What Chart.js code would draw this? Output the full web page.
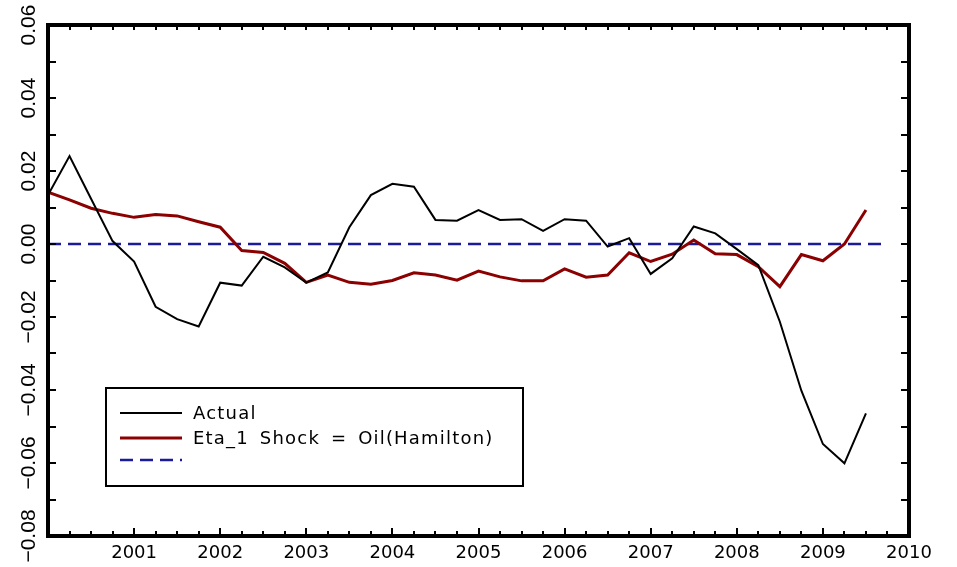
<!DOCTYPE html>
<html lang="en">
<head>
  <meta charset="UTF-8">
  <title>Actual vs Eta_1 Shock = Oil(Hamilton)</title>
  <script src="https://cdn.jsdelivr.net/npm/chart.js"></script>
  <style>
    html, body { margin: 0; padding: 0; background: #fff; }
    #wrap { width: 957px; height: 567px; }
  </style>
</head>
<body>
  <div id="wrap"><canvas id="chart" width="957" height="567"></canvas></div>

  <script>
    // quarterly dates, 2000Q1 .. 2009Q3
    const quarters = [
      2000.00, 2000.25, 2000.50, 2000.75, 2001.00, 2001.25, 2001.50, 2001.75,
      2002.00, 2002.25, 2002.50, 2002.75, 2003.00, 2003.25, 2003.50, 2003.75,
      2004.00, 2004.25, 2004.50, 2004.75, 2005.00, 2005.25, 2005.50, 2005.75,
      2006.00, 2006.25, 2006.50, 2006.75, 2007.00, 2007.25, 2007.50, 2007.75,
      2008.00, 2008.25, 2008.50, 2008.75, 2009.00, 2009.25, 2009.50
    ];
    const actual = [
      0.0134, 0.0241, 0.0124, 0.0008, -0.0048, -0.0172, -0.0206, -0.0226,
      -0.0106, -0.0114, -0.0035, -0.0064, -0.0106, -0.0078, 0.0046, 0.0134,
      0.0165, 0.0157, 0.0066, 0.0064, 0.0093, 0.0066, 0.0068, 0.0036,
      0.0068, 0.0064, -0.0007, 0.0016, -0.0082, -0.0039, 0.0048, 0.0029,
      -0.0014, -0.0058, -0.0213, -0.0402, -0.0548, -0.0601, -0.0464
    ];
    const etaShock = [
      0.0142, 0.0121, 0.0098, 0.0084, 0.0073, 0.0081, 0.0077, 0.0061,
      0.0046, -0.0018, -0.0023, -0.0053, -0.0105, -0.0085, -0.0105, -0.0110,
      -0.0100, -0.0079, -0.0085, -0.0099, -0.0074, -0.0090, -0.0101, -0.0101,
      -0.0068, -0.0091, -0.0085, -0.0024, -0.0048, -0.0028, 0.0011, -0.0027,
      -0.0029, -0.0062, -0.0117, -0.0029, -0.0046, 0.0000, 0.0093
    ];
    const zeroX = [2000.00, 2009.75];
    const zeroY = [0, 0];

    const xTickYears = [2001, 2002, 2003, 2004, 2005, 2006, 2007, 2008, 2009, 2010];
    const yTickValues = [-0.08, -0.06, -0.04, -0.02, 0.00, 0.02, 0.04, 0.06];
    const legendLabels = ['Actual', 'Eta_1 Shock = Oil(Hamilton)', ''];

    const pts = (xs, ys) => xs.map((x, i) => ({ x: x, y: ys[i] }));

    // frame, inward ticks, rotated y labels and the boxed legend
    const framePlugin = {
      id: 'frame',
      afterDraw(chart) {
        const ctx = chart.ctx;
        const a = chart.chartArea;
        const xs = chart.scales.x, ys = chart.scales.y;
        ctx.save();
        ctx.strokeStyle = '#000';

        // y ticks every 0.01 on both sides
        ctx.lineWidth = 2;
        for (let k = -7; k <= 5; k++) {
          const py = Math.round(ys.getPixelForValue(k / 100));
          ctx.beginPath();
          ctx.moveTo(a.left, py); ctx.lineTo(a.left + 8, py);
          ctx.moveTo(a.right, py); ctx.lineTo(a.right - 8, py);
          ctx.stroke();
        }
        // x ticks every quarter, top and bottom
        for (let q = 1; q < 40; q++) {
          const px = Math.round(xs.getPixelForValue(xs.min + q / 4));
          const len = q % 4 === 0 ? 8 : 5;
          ctx.beginPath();
          ctx.moveTo(px, a.bottom); ctx.lineTo(px, a.bottom - len);
          ctx.moveTo(px, a.top); ctx.lineTo(px, a.top + 5);
          ctx.stroke();
        }
        // frame
        ctx.lineWidth = 4;
        ctx.strokeRect(a.left, a.top, a.right - a.left, a.bottom - a.top);

        // rotated y tick labels
        ctx.fillStyle = '#000';
        ctx.font = '21px "Liberation Sans", Arial, sans-serif';
        ctx.textAlign = 'center';
        ctx.textBaseline = 'alphabetic';
        yTickValues.forEach(v => {
          const py = ys.getPixelForValue(v);
          const txt = (v < 0 ? '\u2212' : '') + Math.abs(v).toFixed(2);
          ctx.save();
          ctx.translate(35, py);
          ctx.rotate(-Math.PI / 2);
          ctx.fillText(txt, 0, 0);
          ctx.restore();
        });

        // legend box
        const bx = 106, by = 388, bw = 417, bh = 98;
        ctx.fillStyle = '#fff';
        ctx.fillRect(bx, by, bw, bh);
        ctx.lineWidth = 2;
        ctx.strokeRect(bx, by, bw, bh);
        const rows = [413, 438, 460];
        ctx.font = '18px "DejaVu Sans", sans-serif';
        ctx.textAlign = 'left';
        ctx.textBaseline = 'middle';
        ctx.letterSpacing = '1.2px';
        ctx.wordSpacing = '4px';
        chart.data.datasets.forEach((ds, i) => {
          ctx.strokeStyle = ds.borderColor;
          ctx.lineWidth = ds.borderWidth;
          ctx.setLineDash(ds.borderDash || []);
          ctx.beginPath();
          ctx.moveTo(120, rows[i]); ctx.lineTo(182, rows[i]);
          ctx.stroke();
          ctx.setLineDash([]);
          ctx.fillStyle = '#000';
          if (ds.label) ctx.fillText(ds.label, 193, rows[i] + 1);
        });
        ctx.restore();
      }
    };

    const ctx = document.getElementById('chart').getContext('2d');
    new Chart(ctx, {
      type: 'line',
      data: {
        datasets: [
          {
            label: legendLabels[0],
            data: pts(quarters, actual),
            borderColor: '#000000',
            borderWidth: 2,
            pointRadius: 0,
            tension: 0
          },
          {
            label: legendLabels[1],
            data: pts(quarters, etaShock),
            borderColor: '#8b0000',
            borderWidth: 3,
            pointRadius: 0,
            tension: 0
          },
          {
            label: legendLabels[2],
            data: pts(zeroX, zeroY),
            borderColor: '#1a1a9a',
            borderWidth: 2.5,
            borderDash: [13, 7],
            pointRadius: 0
          }
        ]
      },
      options: {
        responsive: false,
        animation: false,
        devicePixelRatio: 1,
        layout: { padding: { left: 0, right: 48, top: 25, bottom: 0 } },
        plugins: { legend: { display: false }, tooltip: { enabled: false } },
        scales: {
          x: {
            type: 'linear',
            min: 2000,
            max: 2010,
            afterFit: s => { s.height = 31; },
            afterBuildTicks: s => { s.ticks = xTickYears.map(v => ({ value: v })); },
            grid: { display: false, drawTicks: false },
            border: { display: false },
            ticks: {
              padding: 7,
              autoSkip: false,
              maxRotation: 0,
              color: '#000',
              font: { family: '"DejaVu Sans", sans-serif', size: 18 },
              callback: v => String(v)
            }
          },
          y: {
            type: 'linear',
            min: -0.08,
            max: 0.06,
            afterFit: s => { s.width = 48; },
            afterBuildTicks: s => { s.ticks = yTickValues.map(v => ({ value: v })); },
            grid: { display: false, drawTicks: false },
            border: { display: false },
            ticks: { display: false }
          }
        }
      },
      plugins: [framePlugin]
    });
  </script>
</body>
</html>
